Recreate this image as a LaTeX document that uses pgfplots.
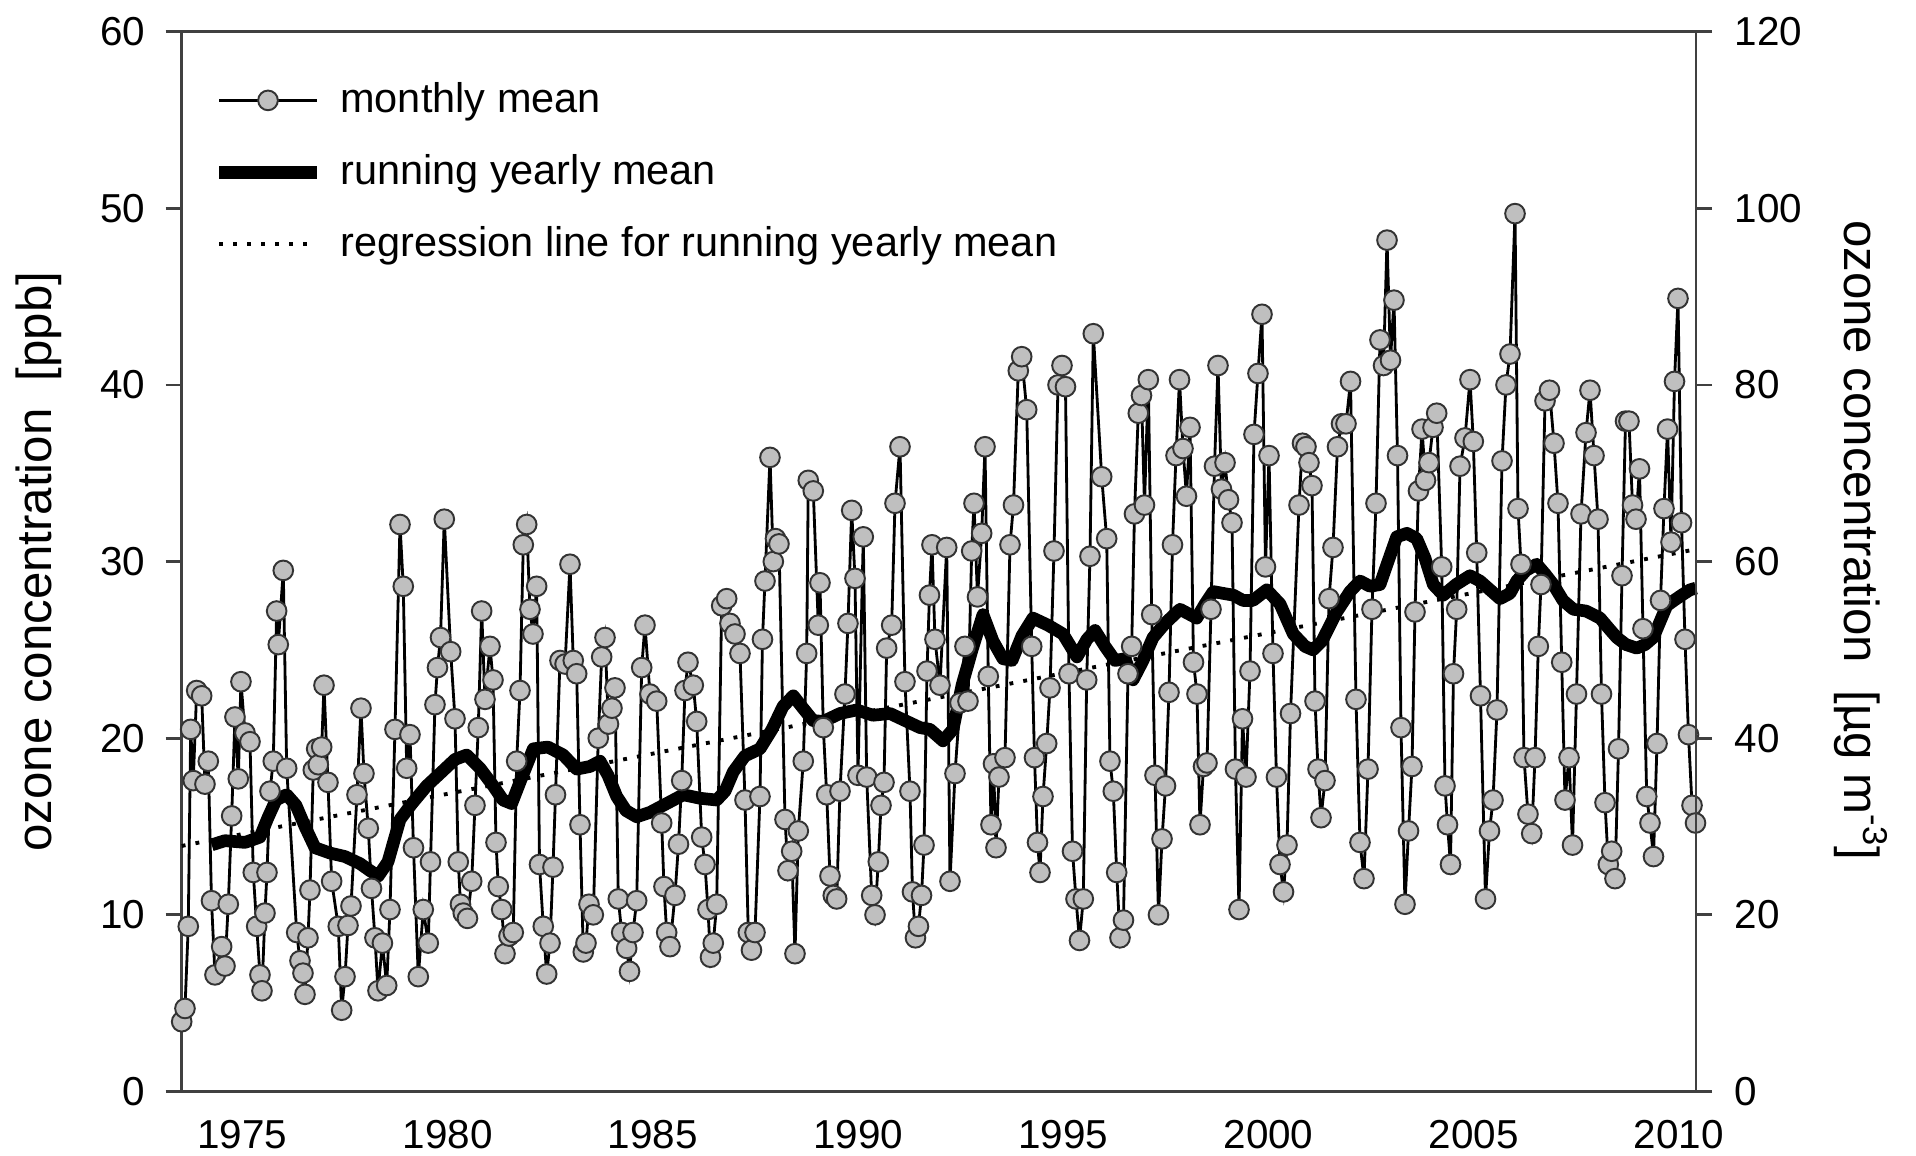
\documentclass[border=0pt]{standalone}
\usepackage{fontspec}
\setmainfont{Liberation Sans}
\usepackage{pgfplots}
\pgfplotsset{compat=1.18}
\usepackage{pgfplotstable}

% monthly means, ppb
\pgfplotstableread{
year ppb
1973.519 3.95
1973.599 4.7
1973.679 9.35
1973.738 20.5
1973.801 17.6
1973.884 22.7
1974.006 22.4
1974.086 17.4
1974.167 18.7
1974.245 10.8
1974.330 6.6
1974.493 8.2
1974.574 7.1
1974.654 10.6
1974.737 15.6
1974.817 21.2
1974.898 17.7
1974.963 23.2
1975.061 20.3
1975.183 19.8
1975.263 12.4
1975.346 9.35
1975.426 6.6
1975.475 5.7
1975.548 10.1
1975.597 12.4
1975.670 17.0
1975.750 18.7
1975.833 27.2
1975.872 25.3
1975.994 29.5
1976.077 18.3
1976.321 9.0
1976.401 7.4
1976.474 6.7
1976.523 5.5
1976.596 8.7
1976.645 11.4
1976.725 18.2
1976.808 19.4
1976.847 18.5
1976.930 19.5
1976.986 23.0
1977.083 17.5
1977.173 11.9
1977.334 9.35
1977.417 4.6
1977.498 6.5
1977.571 9.4
1977.644 10.5
1977.790 16.8
1977.887 21.7
1977.960 18.0
1978.065 14.9
1978.143 11.5
1978.228 8.7
1978.302 5.7
1978.410 8.4
1978.514 6.0
1978.594 10.3
1978.716 20.5
1978.838 32.1
1978.918 28.6
1979.001 18.3
1979.081 20.2
1979.167 13.8
1979.284 6.5
1979.405 10.3
1979.527 8.4
1979.581 13.0
1979.690 21.9
1979.751 24.0
1979.825 25.7
1979.917 32.4
1980.073 24.9
1980.178 21.1
1980.258 13.0
1980.312 10.6
1980.380 10.1
1980.482 9.8
1980.585 11.9
1980.665 16.2
1980.745 20.6
1980.828 27.2
1980.909 22.2
1981.031 25.2
1981.104 23.3
1981.177 14.1
1981.233 11.6
1981.316 10.3
1981.396 7.8
1981.494 8.8
1981.598 9.0
1981.681 18.7
1981.762 22.7
1981.842 30.95
1981.925 32.1
1982.005 27.3
1982.078 25.9
1982.168 28.6
1982.237 12.85
1982.329 9.35
1982.412 6.65
1982.493 8.4
1982.566 12.7
1982.627 16.8
1982.736 24.4
1982.860 24.2
1982.980 29.85
1983.060 24.4
1983.143 23.65
1983.224 15.1
1983.304 7.9
1983.370 8.4
1983.443 10.6
1983.548 10.0
1983.669 20.0
1983.752 24.6
1983.833 25.7
1983.918 20.8
1984.003 21.7
1984.076 22.85
1984.157 10.9
1984.240 9.0
1984.361 8.1
1984.430 6.8
1984.515 9.0
1984.605 10.8
1984.727 24.0
1984.807 26.4
1984.929 22.5
1985.093 22.1
1985.214 15.2
1985.270 11.6
1985.336 9.0
1985.416 8.2
1985.538 11.1
1985.624 14.0
1985.702 17.6
1985.782 22.7
1985.855 24.3
1985.984 23.0
1986.067 20.95
1986.189 14.4
1986.269 12.85
1986.342 10.3
1986.403 7.6
1986.471 8.4
1986.554 10.6
1986.676 27.5
1986.798 27.9
1986.878 26.5
1987.000 25.9
1987.122 24.8
1987.244 16.5
1987.324 9.0
1987.402 8.0
1987.488 9.0
1987.609 16.7
1987.670 25.6
1987.731 28.9
1987.853 35.9
1987.934 30.0
1987.987 31.3
1988.072 31.0
1988.219 15.4
1988.292 12.5
1988.382 13.6
1988.462 7.8
1988.543 14.75
1988.664 18.7
1988.747 24.8
1988.786 34.6
1988.908 34.0
1989.030 26.4
1989.071 28.8
1989.152 20.6
1989.235 16.8
1989.315 12.2
1989.395 11.1
1989.478 10.9
1989.559 17.0
1989.680 22.5
1989.753 26.5
1989.844 32.9
1989.924 29.05
1989.997 17.9
1990.126 31.4
1990.209 17.8
1990.331 11.1
1990.412 10.0
1990.492 13.0
1990.558 16.2
1990.631 17.5
1990.696 25.1
1990.818 26.4
1990.899 33.3
1991.021 36.5
1991.142 23.2
1991.264 17.0
1991.325 11.3
1991.398 8.7
1991.471 9.35
1991.545 11.1
1991.606 13.95
1991.679 23.8
1991.739 28.1
1991.800 30.95
1991.873 25.6
1991.995 23.0
1992.159 30.8
1992.239 11.9
1992.361 18.0
1992.483 22.0
1992.604 25.2
1992.677 22.1
1992.768 30.6
1992.824 33.3
1992.909 28.0
1993.011 31.6
1993.092 36.5
1993.172 23.5
1993.238 15.1
1993.299 18.55
1993.360 13.8
1993.433 17.8
1993.579 18.9
1993.701 30.95
1993.786 33.2
1993.903 40.8
1993.986 41.6
1994.108 38.6
1994.230 25.2
1994.298 18.9
1994.371 14.1
1994.432 12.4
1994.505 16.7
1994.595 19.7
1994.676 22.85
1994.773 30.6
1994.871 40.0
1994.968 41.1
1995.053 39.9
1995.138 23.65
1995.224 13.6
1995.309 10.9
1995.394 8.55
1995.487 10.9
1995.570 23.3
1995.650 30.3
1995.731 42.9
1995.935 34.8
1996.057 31.3
1996.137 18.7
1996.218 17.0
1996.301 12.4
1996.381 8.7
1996.466 9.7
1996.576 23.65
1996.666 25.2
1996.734 32.7
1996.827 38.4
1996.905 39.4
1996.978 33.2
1997.071 40.3
1997.154 27.0
1997.234 17.9
1997.319 10.0
1997.405 14.3
1997.490 17.3
1997.575 22.6
1997.660 30.95
1997.746 36.0
1997.831 40.3
1997.916 36.4
1998.001 33.7
1998.087 37.6
1998.172 24.3
1998.257 22.5
1998.330 15.1
1998.416 18.4
1998.501 18.6
1998.598 27.3
1998.684 35.4
1998.769 41.1
1998.854 34.1
1998.940 35.6
1999.025 33.5
1999.110 32.2
1999.195 18.25
1999.281 10.3
1999.366 21.1
1999.451 17.8
1999.549 23.8
1999.646 37.2
1999.743 40.65
1999.841 44.0
1999.926 29.7
2000.012 36.0
2000.109 24.8
2000.194 17.8
2000.280 12.85
2000.365 11.3
2000.450 13.95
2000.536 21.4
2000.743 33.2
2000.828 36.7
2000.913 36.5
2000.986 35.6
2001.059 34.3
2001.133 22.1
2001.206 18.25
2001.279 15.5
2001.376 17.6
2001.474 27.9
2001.571 30.8
2001.681 36.5
2001.778 37.8
2001.888 37.8
2001.998 40.2
2002.131 22.2
2002.229 14.1
2002.326 12.05
2002.424 18.25
2002.521 27.3
2002.619 33.3
2002.716 42.55
2002.802 41.1
2002.887 48.2
2002.972 41.4
2003.057 44.8
2003.143 36.0
2003.228 20.6
2003.325 10.6
2003.411 14.75
2003.496 18.4
2003.569 27.15
2003.654 34.0
2003.740 37.5
2003.825 34.6
2003.910 35.6
2004.008 37.6
2004.098 38.4
2004.220 29.7
2004.300 17.3
2004.361 15.1
2004.434 12.85
2004.507 23.65
2004.585 27.3
2004.666 35.4
2004.787 37.0
2004.909 40.3
2004.990 36.8
2005.073 30.5
2005.165 22.4
2005.287 10.9
2005.384 14.75
2005.470 16.5
2005.567 21.6
2005.689 35.7
2005.786 40.0
2005.884 41.75
2006.006 49.7
2006.079 33.0
2006.152 29.85
2006.225 18.9
2006.322 15.7
2006.413 14.6
2006.493 18.9
2006.574 25.2
2006.639 28.7
2006.737 39.1
2006.846 39.7
2006.956 36.7
2007.053 33.3
2007.144 24.3
2007.224 16.5
2007.322 18.9
2007.407 13.95
2007.504 22.5
2007.614 32.7
2007.736 37.3
2007.833 39.7
2007.931 36.0
2008.028 32.4
2008.113 22.5
2008.199 16.35
2008.279 12.85
2008.362 13.6
2008.442 12.05
2008.528 19.4
2008.613 29.2
2008.698 37.95
2008.783 37.95
2008.869 33.2
2008.954 32.4
2009.039 35.25
2009.124 26.2
2009.215 16.7
2009.295 15.2
2009.380 13.3
2009.466 19.7
2009.551 27.8
2009.636 33.0
2009.722 37.5
2009.807 31.1
2009.892 40.2
2009.977 44.9
2010.063 32.2
2010.148 25.6
2010.233 20.2
2010.319 16.2
2010.404 15.2
}\monthly

% running yearly mean, ppb
\pgfplotstableread{
year ppb
1974.250 13.96
1974.574 14.2
1975.061 14.1
1975.426 14.4
1975.621 15.5
1975.816 16.5
1976.077 16.8
1976.304 16.2
1976.523 15.0
1976.767 13.8
1977.132 13.5
1977.498 13.3
1977.863 12.9
1978.107 12.5
1978.309 12.2
1978.545 13.0
1978.838 15.4
1979.130 16.3
1979.488 17.3
1979.812 18.0
1980.178 18.8
1980.463 19.05
1980.787 18.3
1981.111 17.3
1981.347 16.5
1981.559 16.3
1981.810 17.8
1982.086 19.4
1982.444 19.5
1982.817 19.05
1983.143 18.25
1983.467 18.4
1983.711 18.7
1983.906 17.9
1984.118 16.7
1984.345 15.9
1984.605 15.55
1984.929 15.8
1985.336 16.3
1985.741 16.8
1986.148 16.6
1986.554 16.5
1986.757 17.0
1986.959 18.1
1987.244 19.0
1987.609 19.4
1987.902 20.5
1988.170 21.8
1988.421 22.4
1988.657 21.7
1988.901 21.0
1989.152 20.95
1989.559 21.4
1989.966 21.6
1990.363 21.3
1990.777 21.4
1991.142 21.0
1991.508 20.6
1991.751 20.5
1992.068 19.85
1992.312 20.5
1992.532 23.0
1992.776 25.0
1993.043 27.0
1993.287 25.5
1993.530 24.5
1993.750 24.4
1993.993 25.8
1994.261 26.8
1994.627 26.4
1994.992 25.9
1995.333 24.6
1995.577 25.6
1995.772 26.1
1996.016 25.2
1996.259 24.4
1996.503 24.5
1996.698 23.3
1996.942 24.4
1997.186 25.7
1997.478 26.5
1997.843 27.3
1998.250 26.8
1998.454 27.6
1998.656 28.3
1998.892 28.2
1999.142 28.1
1999.379 27.8
1999.622 27.8
1999.956 28.4
2000.280 27.6
2000.604 25.9
2000.889 25.2
2001.083 25.0
2001.303 25.5
2001.661 27.15
2001.985 28.3
2002.229 28.9
2002.473 28.6
2002.716 28.7
2002.911 30.0
2003.123 31.4
2003.374 31.6
2003.610 31.3
2003.812 30.2
2004.015 28.7
2004.259 28.1
2004.568 28.7
2004.909 29.2
2005.153 28.9
2005.396 28.4
2005.640 27.9
2005.884 28.2
2006.047 28.9
2006.274 29.5
2006.534 29.85
2006.737 29.3
2006.939 28.7
2007.175 27.8
2007.426 27.3
2007.736 27.2
2008.078 26.8
2008.297 26.2
2008.485 25.7
2008.711 25.3
2008.972 25.1
2009.174 25.3
2009.376 25.7
2009.539 26.6
2009.702 27.5
2009.880 27.8
2010.068 28.1
2010.270 28.4
2010.416 28.5
}\running

\begin{document}
\begin{tikzpicture}
\useasboundingbox (-1.817,-0.645) rectangle (17.343,10.915);
\pgfplotsset{
  every axis/.append style={
    scale only axis,
    width=15.143cm, height=10.598cm,
    xmin=1973.519, xmax=2010.416,
    axis line style={black!75, line width=0.8pt},
    tick style={black!75, line width=0.8pt},
    tick align=outside,
    major tick length=0.16cm,
    /pgf/number format/assume math mode=true,
    tick label style={font=\fontsize{11.5}{13}\selectfont},
  },
}
\begin{axis}[
    at={(0,0)}, anchor=south west,
    ymin=0, ymax=60,
    ytick={0,10,...,60},
    ytick pos=left,
    xtick={1975,1980,...,2010},
    xtick pos=bottom,
    xtick style={draw=none},
    x tick label style={/pgf/number format/1000 sep={}},
    y tick label style={xshift=-0.08cm},
    ylabel={ozone concentration\ \ [ppb]},
    every axis y label/.style={at={(axis description cs:-0.0945,0.5)}, anchor=center,
      rotate=90, font=\fontsize{14}{16}\selectfont},
    clip=false,
    legend image code/.code={%
      \draw[mark repeat=2, mark phase=2, #1] plot coordinates {(0cm,0cm) (0.49cm,0cm) (0.98cm,0cm)};},
    legend cell align=left,
    legend style={draw=none, fill=none, inner sep=0pt,
      at={(axis description cs:0.020,0.9525)}, anchor=north west,
      font=\fontsize{11.8}{14}\selectfont,
      nodes={inner sep=0pt},
      row sep=0.366cm,
      /tikz/every odd column/.append style={column sep=0.17cm}},
]
\addplot[black, line width=0.8pt, mark=*, mark size=2.8pt,
  mark options={solid, fill=gray!50, draw=black!80, line width=0.55pt}]
  table[x=year, y=ppb] {\monthly};
\addlegendentry{monthly mean}

\addplot[black, line width=3.6pt, line join=round]
  table[x=year, y=ppb] {\running};
\addlegendentry{running yearly mean}

\addplot[black, line width=1.1pt, dash pattern=on 1.1pt off 2.9pt]
  coordinates {(1973.519,13.9) (2010.416,30.7)};
\addlegendentry{regression line for running yearly mean}
\end{axis}

\begin{axis}[
    at={(0,0)}, anchor=south west,
    ymin=0, ymax=120,
    ytick={0,20,...,120},
    axis y line*=right,
    axis x line=none,
    y tick label style={xshift=0.105cm},
    ylabel={ozone concentration\ \ [µg m\textsuperscript{-3}]},
    every axis y label/.style={at={(axis description cs:1.109,0.52)}, anchor=center,
      rotate=-90, font=\fontsize{14}{16}\selectfont},
]
\end{axis}
\end{tikzpicture}
\end{document}
